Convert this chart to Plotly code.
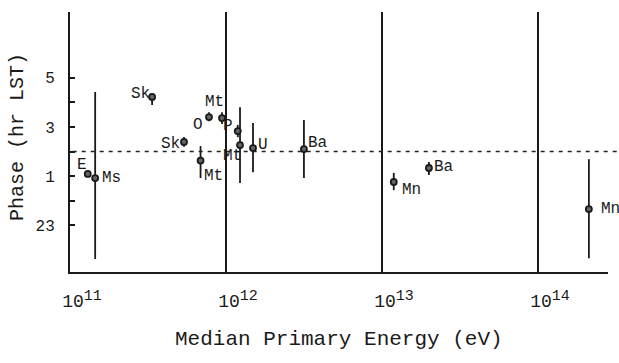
import math
import plotly.graph_objects as go

# ---- data ----
labels = ["E", "Ms", "Sk", "Sk", "Mt", "O", "Mt", "P", "Mt", "U", "Ba", "Mn", "Ba", "Mn"]
energy_ev = [1.30e11, 1.45e11, 3.36e11, 5.38e11, 6.87e11, 7.78e11, 9.43e11,
             1.19e12, 1.23e12, 1.49e12, 3.16e12, 1.19e13, 2.0e13, 2.12e14]
phase_hr = [1.09, 0.92, 4.22, 2.39, 1.63, 3.40, 3.36,
            2.83, 2.26, 2.14, 2.10, 0.76, 1.33, 23.66]
err_plus = [0.0, 3.50, 0.15, 0.20, 0.59, 0.20, 0.24,
            0.25, 1.54, 1.02, 1.18, 0.37, 0.24, 2.03]
err_minus = [0.0, 3.29, 0.33, 0.20, 0.71, 0.17, 0.24,
             0.25, 1.54, 0.98, 1.18, 0.33, 0.28, 2.00]
reference_phase = 2.0
x_tick_vals = [1e11, 1e12, 1e13, 1e14]
x_tick_exps = ["11", "12", "13", "14"]
y_tick_vals = [5, 4, 3, 2, 1, 0, -1]
y_tick_text = ["5", "", "3", "", "1", "", "23"]

# label placement (pixel offsets: right, down)
label_offsets = [(-6, -9), (16, 0), (-12, -3), (-13, 2), (13, 15), (-11, 8), (-8, -16),
                 (-10, -5), (-8, 11), (10, -3), (14, -6), (18, 8), (15, -1), (22, 0)]

FONT = "Liberation Mono, Courier New, monospace"
INK = "#1a1a1a"

# phases after midnight wrap around (23 h shown below 0 h)
y_vals = [h - 24 if h > 12 else h for h in phase_hr]
x_tick_text = ["10<sup><span style='font-size:15px'>%s</span></sup>" % e for e in x_tick_exps]

fig = go.Figure()
fig.add_trace(go.Scatter(
    x=energy_ev, y=y_vals, mode="markers",
    marker=dict(size=6, color="#666666", line=dict(color=INK, width=1.8)),
    error_y=dict(type="data", symmetric=False, array=err_plus, arrayminus=err_minus,
                 color=INK, thickness=1.8, width=0),
    showlegend=False, hoverinfo="skip",
))

# annotations on a log axis take log10 positions
for lab, x, y, (dx, dy) in zip(labels, energy_ev, y_vals, label_offsets):
    fig.add_annotation(x=math.log10(x), y=y, xref="x", yref="y", text=lab, showarrow=False,
                       xshift=dx, yshift=-dy, xanchor="center", yanchor="middle",
                       font=dict(family=FONT, size=16, color=INK))

fig.add_shape(type="line", xref="paper", yref="y", x0=0.005, x1=1.017,
              y0=reference_phase, y1=reference_phase,
              line=dict(color="#222222", width=1.3, dash="4px,5px"))

fig.add_annotation(text="Median Primary Energy (eV)", xref="paper", yref="paper",
                   x=0.5, y=-0.258, showarrow=False, xanchor="center", yanchor="middle",
                   font=dict(family=FONT, size=21, color=INK))
fig.add_annotation(text="Phase (hr LST)", xref="paper", yref="paper",
                   x=-0.0985, y=0.519, showarrow=False, xanchor="center", yanchor="middle",
                   textangle=-90, font=dict(family=FONT, size=20, color=INK))

fig.update_layout(
    width=619, height=363,
    margin=dict(l=70, r=11, t=12, b=91),
    paper_bgcolor="white", plot_bgcolor="white",
    font=dict(family=FONT, color=INK),
    xaxis=dict(type="log", range=[11, 14.449], tickvals=x_tick_vals, ticktext=x_tick_text,
               showgrid=True, gridcolor=INK, gridwidth=2, showline=True, linecolor=INK,
               linewidth=1.5, ticks="", zeroline=False,
               tickfont=dict(family=FONT, size=18, color=INK),
               ticklabelshift=12, ticklabelstandoff=12),
    yaxis=dict(range=[-2.898, 7.671], tickvals=y_tick_vals, ticktext=y_tick_text,
               ticks="inside", ticklen=5, tickwidth=1.5, tickcolor=INK,
               showline=True, linecolor=INK, linewidth=2, showgrid=False, zeroline=False,
               tickfont=dict(family=FONT, size=16, color=INK), ticklabelstandoff=10),
)

fig.write_html("out.html")
